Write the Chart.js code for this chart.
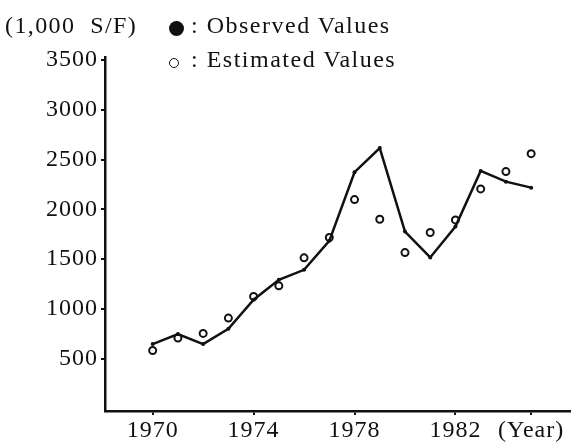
<!DOCTYPE html>
<html>
<head>
<meta charset="utf-8">
<script src="https://cdn.jsdelivr.net/npm/chart.js@4.4.0/dist/chart.umd.min.js"></script>
<style>
    body { margin: 0; background: #fff; }
    #wrap { position: relative; width: 576px; height: 442px; }
    .txt { position: absolute; font-family: 'Liberation Serif', 'DejaVu Serif', serif; font-size: 24px; line-height: 28px; letter-spacing: 1.5px; color: #111; white-space: nowrap; }
    .dot { position: absolute; border-radius: 50%; box-sizing: border-box; }
</style>
</head>
<body>
<div id="wrap">
    <canvas id="chart" width="576" height="442"></canvas>
    <div class="txt" style="left:5px; top:11px; letter-spacing:1.4px;">(1,000&nbsp; S/F)</div>
    <div class="dot" style="left:169px; top:21px; width:15px; height:15px; background:#111;"></div>
    <div class="txt" style="left:191px; top:11px;">: Observed Values</div>
    <div class="dot" style="left:169px; top:58px; width:10px; height:10px; border:1.5px solid #111;"></div>
    <div class="txt" style="left:191px; top:45px;">: Estimated Values</div>
</div>
<script>
// years 1970 - 1985
const years = [1970, 1971, 1972, 1973, 1974, 1975, 1976, 1977, 1978, 1979, 1980, 1981, 1982, 1983, 1984, 1985];
const observed = [647, 748, 647, 801, 1092, 1292, 1393, 1684, 2373, 2616, 1777, 1517, 1827, 2386, 2278, 2218];
const estimated = [583, 708, 754, 908, 1125, 1232, 1513, 1717, 2098, 1901, 1566, 1767, 1894, 2205, 2379, 2559];

const yTicks = [500, 1000, 1500, 2000, 2500, 3000, 3500];
const xTicks = [1970, 1974, 1978, 1982, 1985];
const xTickLabels = ['1970', '1974', '1978', '1982', '(Year)'];

const serif = "'Liberation Serif', 'DejaVu Serif', serif";

// canvas text spacing to look like the printed figure
const spacingPlugin = {
    id: 'spacing',
    beforeDraw(chart) {
        chart.ctx.letterSpacing = '1px';
    }
};

const ctx = document.getElementById('chart').getContext('2d');
new Chart(ctx, {
    type: 'line',
    data: {
        datasets: [
            {
                label: 'Observed Values',
                data: years.map((y, i) => ({ x: y, y: observed[i] })),
                borderColor: '#111',
                backgroundColor: '#111',
                borderWidth: 2.5,
                pointRadius: 2,
                pointBorderWidth: 0,
                tension: 0
            },
            {
                label: 'Estimated Values',
                data: years.map((y, i) => ({ x: y, y: estimated[i] })),
                showLine: false,
                borderColor: '#111',
                backgroundColor: '#fff',
                pointRadius: 3.5,
                pointBorderWidth: 2
            }
        ]
    },
    options: {
        responsive: false,
        animation: false,
        layout: { padding: { top: 57, left: 0, right: 3, bottom: 0 } },
        scales: {
            x: {
                type: 'linear',
                min: 1968.11,
                max: 1986.54,
                afterBuildTicks: (scale) => { scale.ticks = xTicks.map(v => ({ value: v })); },
                afterFit: (scale) => { scale.height = 31; },
                border: { color: '#111', width: 2.5 },
                grid: { drawOnChartArea: false, tickLength: 4, color: '#111', lineWidth: 2 },
                ticks: {
                    color: '#111',
                    padding: 1,
                    maxRotation: 0,
                    autoSkip: false,
                    font: { family: serif, size: 24 },
                    callback: (v) => xTickLabels[xTicks.indexOf(v)]
                }
            },
            y: {
                min: -25,
                max: 3530,
                afterBuildTicks: (scale) => { scale.ticks = yTicks.map(v => ({ value: v })); },
                afterFit: (scale) => { scale.width = 105; },
                border: { color: '#111', width: 2.5 },
                grid: { drawOnChartArea: false, tickLength: 4, color: '#111', lineWidth: 2 },
                ticks: {
                    color: '#111',
                    padding: 3,
                    autoSkip: false,
                    font: { family: serif, size: 24 },
                    callback: (v) => String(v)
                }
            }
        },
        plugins: {
            legend: { display: false },
            tooltip: { enabled: false },
            title: { display: false }
        }
    },
    plugins: [spacingPlugin]
});
</script>
</body>
</html>
